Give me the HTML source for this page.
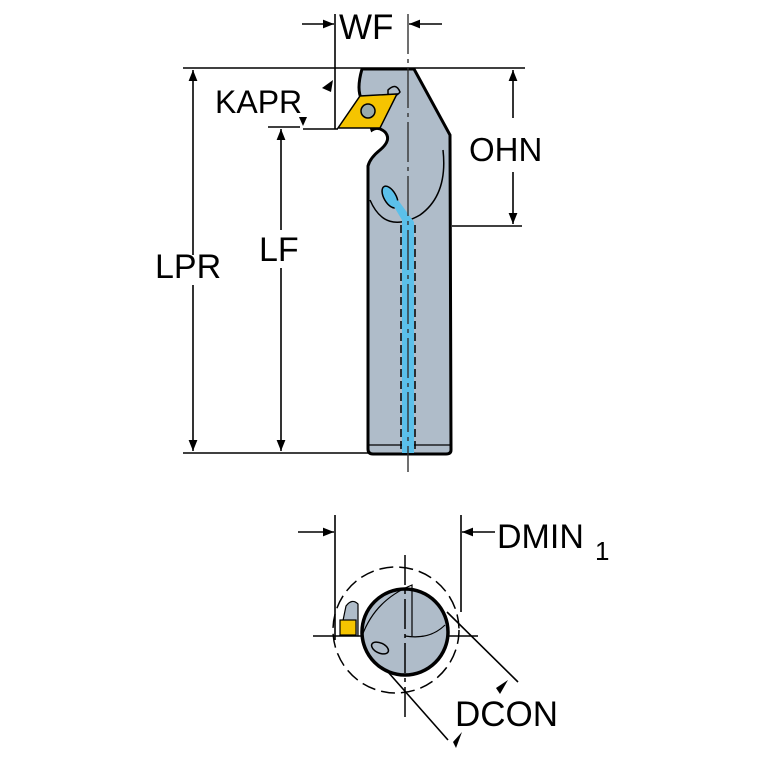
<!DOCTYPE html>
<html><head><style>body{margin:0;background:#fff}svg{display:block}text{font-family:"Liberation Sans",sans-serif;fill:#000}</style></head>
<body><svg width="767" height="767" viewBox="0 0 767 767" xmlns="http://www.w3.org/2000/svg">
<defs><marker id="a" viewBox="0 0 10 10" refX="10" refY="5" markerWidth="7" markerHeight="7" orient="auto-start-reverse"><path d="M0,1 L10,5 L0,9z" fill="#000"/></marker></defs>
<g stroke="#000" stroke-width="1.6" fill="none">
<line x1="183" y1="68" x2="525" y2="68"/>
<line x1="183" y1="453" x2="372" y2="453"/>
<line x1="452" y1="226" x2="522" y2="226"/>
<line x1="335" y1="14" x2="335" y2="129"/>
<line x1="302" y1="24" x2="334" y2="24" marker-end="url(#a)"/>
<line x1="442" y1="24" x2="409" y2="24" marker-end="url(#a)"/>
<line x1="193" y1="255" x2="193" y2="70" marker-end="url(#a)"/>
<line x1="193" y1="285" x2="193" y2="451" marker-end="url(#a)"/>
<line x1="268" y1="127" x2="300" y2="127"/>
<line x1="303" y1="129" x2="338" y2="129"/>
<line x1="281" y1="230" x2="281" y2="129" marker-end="url(#a)"/>
<line x1="281" y1="268" x2="281" y2="451" marker-end="url(#a)"/>
<line x1="513" y1="118" x2="513" y2="70" marker-end="url(#a)"/>
<line x1="513" y1="172" x2="513" y2="224" marker-end="url(#a)"/>
</g>
<path d="M322,88 L333,80 L331,92z" fill="#000"/>
<path d="M299,117 L307,117 L303,126z" fill="#000"/>
<path d="M362,69 L414,69 L450,135 L451,450 Q451,454 446,454 L373,454 Q368,454 368,449 L368,166 Q370,158 380,150 Q392,140 385,132 Q378,126 372,130 L362,100 Q356,90 362,69z" fill="#afbcc9" stroke="#000" stroke-width="3"/>
<line x1="369" y1="445" x2="450" y2="445" stroke="#000" stroke-width="1.2"/>
<path d="M370,200 Q385,235 420,215 Q448,195 443,150" fill="none" stroke="#000" stroke-width="1.5"/>
<path d="M388,90 Q396,82 400,92 Q396,98 388,94z" fill="#afbcc9" stroke="#000" stroke-width="1.5"/>
<path d="M338,128 L360,96 L397,94 L380,128z" fill="#f5c400" stroke="#000" stroke-width="1.5"/>
<circle cx="368" cy="111" r="7" fill="#9aa" stroke="#000" stroke-width="1.5"/>
<ellipse cx="390" cy="197" rx="6" ry="12" transform="rotate(-30 390 197)" fill="#5bc0ea" stroke="#000" stroke-width="1.5"/>
<path d="M393,205 L402,220 L402,453 L414,453 L414,222 L398,200z" fill="#5bc0ea"/>
<line x1="401" y1="225" x2="401" y2="452" stroke="#000" stroke-width="1.5" stroke-dasharray="8,4"/>
<line x1="415" y1="225" x2="415" y2="452" stroke="#000" stroke-width="1.5" stroke-dasharray="8,4"/>
<line x1="408" y1="14" x2="408" y2="472" stroke="#333" stroke-width="1.4" stroke-dasharray="40,5,4,5"/>
<text x="339" y="39" font-size="35">WF</text>
<text x="215" y="113" font-size="32">KAPR</text>
<text x="469" y="161" font-size="33">OHN</text>
<text x="155" y="278" font-size="34">LPR</text>
<text x="259" y="261" font-size="34">LF</text>
<g stroke="#000" stroke-width="1.6" fill="none">
<line x1="335" y1="515" x2="335" y2="640"/>
<line x1="461" y1="515" x2="461" y2="612"/>
<line x1="298" y1="532" x2="334" y2="532" marker-end="url(#a)"/>
<line x1="495" y1="532" x2="462" y2="532" marker-end="url(#a)"/>
<line x1="313" y1="636" x2="478" y2="636"/>
<line x1="447" y1="612" x2="518" y2="682"/>
<line x1="388" y1="672" x2="448" y2="740"/>
</g>
<circle cx="396" cy="630" r="63" fill="none" stroke="#000" stroke-width="1.5" stroke-dasharray="14,6"/>
<circle cx="405" cy="632" r="43" fill="#afbcc9" stroke="#000" stroke-width="3.5"/>
<path d="M362,636 Q375,600 412,585 L412,636" fill="none" stroke="#000" stroke-width="1.2"/>
<path d="M405,636 Q430,640 445,625" fill="none" stroke="#000" stroke-width="1.2"/>
<path d="M340,635 L346,606 Q352,598 358,604 L358,636z" fill="#afbcc9" stroke="#000" stroke-width="1.2"/>
<rect x="340" y="620" width="16" height="15" fill="#f5c400" stroke="#000" stroke-width="1.2"/>
<ellipse cx="380" cy="648" rx="9" ry="5" transform="rotate(25 380 648)" fill="#afbcc9" stroke="#000" stroke-width="1.5"/>
<line x1="405" y1="555" x2="405" y2="720" stroke="#000" stroke-width="1.5" stroke-dasharray="30,5,4,5"/>
<path d="M496,688 L508,680 L500,694z" fill="#000"/>
<path d="M453,742 L462,732 L456,748z" fill="#000"/>
<text x="497" y="548" font-size="34">DMIN</text>
<text x="595" y="560" font-size="26">1</text>
<text x="455" y="726" font-size="35">DCON</text>
</svg></body></html>
